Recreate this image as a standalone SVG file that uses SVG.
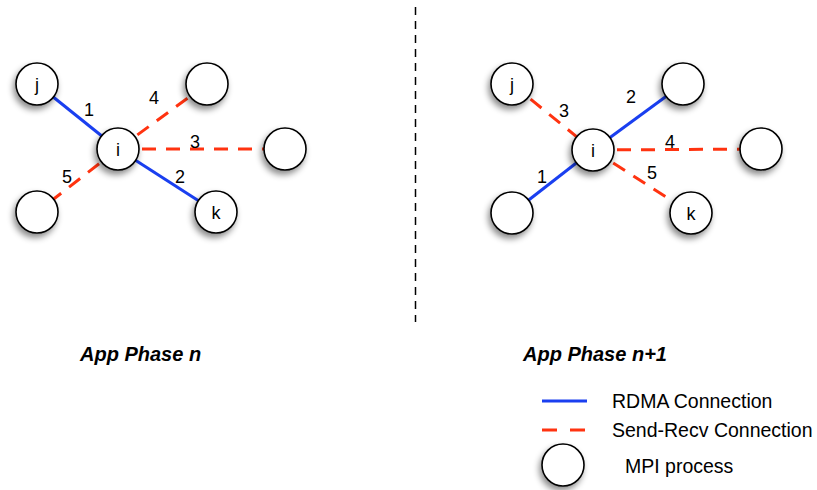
<svg xmlns="http://www.w3.org/2000/svg" width="817" height="490" viewBox="0 0 817 490">
<defs>
<filter id="sh" x="-50%" y="-50%" width="200%" height="200%">
<feDropShadow dx="-2" dy="4" stdDeviation="3" flood-color="#000" flood-opacity="0.45"/>
</filter>
</defs>
<style>
.node{fill:#fff;stroke:#000;stroke-width:1.6;filter:url(#sh)}
.rdma{stroke:#1a3ff0;stroke-width:3;fill:none}
.sr{stroke:#ff3310;stroke-width:3;stroke-dasharray:14 10;fill:none}
.lbl{font-family:"Liberation Sans",Arial,sans-serif;font-size:18px;fill:#000;text-anchor:middle}
.title{font-family:"Liberation Sans",Arial,sans-serif;font-size:20px;font-weight:bold;font-style:italic;fill:#000}
.leg{font-family:"Liberation Sans",Arial,sans-serif;font-size:19.5px;fill:#000}
</style>
<rect width="817" height="490" fill="#fff"/>
<line x1="415.5" y1="7" x2="415.5" y2="322" stroke="#000" stroke-width="1.5" stroke-dasharray="8 6"/>
<g id="connectors">
<line class="rdma" x1="37" y1="84" x2="118" y2="149"/>
<line class="sr" x1="118" y1="149" x2="207" y2="84"/>
<line class="sr" x1="118" y1="149" x2="285" y2="149"/>
<line class="rdma" x1="118" y1="149" x2="216" y2="212"/>
<line class="sr" x1="118" y1="149" x2="37" y2="212"/>
<line class="sr" x1="512" y1="84" x2="593" y2="150"/>
<line class="rdma" x1="593" y1="150" x2="683" y2="84"/>
<line class="sr" x1="593" y1="150" x2="761" y2="149"/>
<line class="rdma" x1="593" y1="150" x2="512" y2="213"/>
<line class="sr" x1="593" y1="150" x2="691" y2="213"/>
</g>
<g id="edge-labels">
<text class="lbl" x="89" y="116">1</text>
<text class="lbl" x="154" y="104">4</text>
<text class="lbl" x="195" y="148">3</text>
<text class="lbl" x="67" y="183">5</text>
<text class="lbl" x="180" y="183">2</text>
<text class="lbl" x="564" y="117">3</text>
<text class="lbl" x="631" y="103">2</text>
<text class="lbl" x="670" y="148">4</text>
<text class="lbl" x="542" y="183">1</text>
<text class="lbl" x="652" y="179">5</text>
</g>
<g id="L-j"><circle class="node" cx="37" cy="84" r="21"/><text class="lbl" x="37" y="91">j</text></g>
<g id="L-i"><circle class="node" cx="118" cy="149" r="21"/><text class="lbl" x="118" y="156">i</text></g>
<g id="L-tr"><circle class="node" cx="207" cy="84" r="21"/></g>
<g id="L-r"><circle class="node" cx="285" cy="149" r="21"/></g>
<g id="L-bl"><circle class="node" cx="37" cy="212" r="21"/></g>
<g id="L-k"><circle class="node" cx="216" cy="212" r="21"/><text class="lbl" x="216" y="219">k</text></g>
<g id="R-j"><circle class="node" cx="512" cy="84" r="21"/><text class="lbl" x="512" y="91">j</text></g>
<g id="R-i"><circle class="node" cx="593" cy="150" r="21"/><text class="lbl" x="593" y="157">i</text></g>
<g id="R-tr"><circle class="node" cx="683" cy="84" r="21"/></g>
<g id="R-r"><circle class="node" cx="761" cy="149" r="21"/></g>
<g id="R-bl"><circle class="node" cx="512" cy="213" r="21"/></g>
<g id="R-k"><circle class="node" cx="691" cy="213" r="21"/><text class="lbl" x="691" y="220">k</text></g>
<text class="title" x="80" y="361">App Phase n</text>
<text class="title" x="523" y="361">App Phase n+1</text>
<g id="legend">
<line class="rdma" x1="542" y1="401" x2="587" y2="401"/>
<text class="leg" x="612" y="408">RDMA Connection</text>
<line class="sr" x1="542" y1="430" x2="587" y2="430" style="stroke-dasharray:15 13"/>
<text class="leg" x="612" y="437">Send-Recv Connection</text>
<circle class="node" cx="563" cy="465" r="21"/>
<text class="leg" x="625" y="473">MPI process</text>
</g>
</svg>
